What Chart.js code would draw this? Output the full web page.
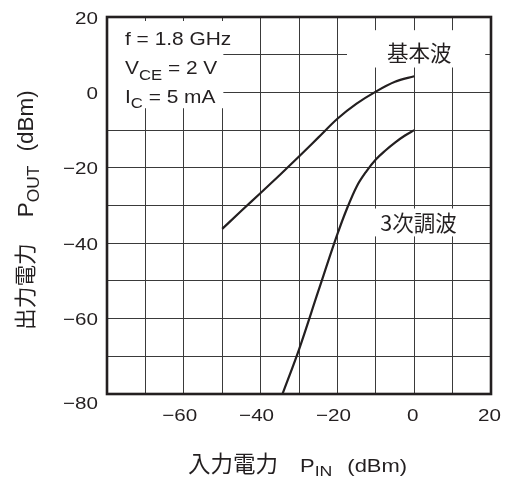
<!DOCTYPE html>
<html>
<head>
<meta charset="utf-8">
<script src="https://cdn.jsdelivr.net/npm/chart.js@4"></script>
<style>
  html, body { margin: 0; padding: 0; background: #fff; }
  canvas { display: block; }
</style>
</head>
<body>
<canvas id="c" width="510" height="479"></canvas>
<script>
// Input power sweep (dBm) and measured output power (dBm)
const fundamentalIn  = [-50, -45, -40, -35, -30, -25, -20, -15, -10, -5, 0];
const fundamentalOut = [-36.2, -31.4, -26.7, -21.9, -17.0, -12.0, -7.0, -3.0, 0.2, 2.8, 4.3];

const thirdIn  = [-34.3, -30, -25, -20, -17.5, -15, -12.5, -10, -7.5, -5, -2.5, 0];
const thirdOut = [-80, -68.2, -52.8, -37.6, -30.8, -25.0, -21.0, -17.8, -15.4, -13.3, -11.5, -10.0];

// Axis tick labels
const xTickValues = [-60, -40, -20, 0, 20];
const xTickLabels = ['\u221260', '\u221240', '\u221220', '0', '20'];
const yTickValues = [20, 0, -20, -40, -60, -80];
const yTickLabels = ['20', '0', '\u221220', '\u221240', '\u221260', '\u221280'];

// Curve names and measurement conditions
const seriesNames = ['基本波', '3次調波'];
const conditions = [
  [{ t: 'f = 1.8 GHz' }],
  [{ t: 'V' }, { t: 'CE', sub: true }, { t: ' = 2 V' }],
  [{ t: 'I' }, { t: 'C', sub: true }, { t: ' = 5 mA' }]
];

const INK = '#231f20';
const LATIN = '"Liberation Sans", Arial, Helvetica, sans-serif';
const CJK = '"Noto Sans CJK JP", "Noto Sans CJK SC", sans-serif';

function toPoints(xs, ys) {
  return xs.map((x, i) => ({ x: x, y: ys[i] }));
}

// Draw a run of text pieces left to right; each piece may carry its own
// size, family, horizontal stretch, vertical shift and leading gap.
function pieceWidth(ctx, p) {
  ctx.font = p.size + 'px ' + p.family;
  return ctx.measureText(p.t).width * (p.sx || 1);
}
function drawRun(ctx, pieces, x, y) {
  let cx = x;
  pieces.forEach(p => {
    cx += p.gap || 0;
    ctx.save();
    ctx.font = p.size + 'px ' + p.family;
    ctx.textAlign = 'left';
    ctx.textBaseline = 'alphabetic';
    ctx.translate(cx, y + (p.dy || 0));
    ctx.scale(p.sx || 1, 1);
    ctx.fillText(p.t, 0, 0);
    ctx.restore();
    cx += pieceWidth(ctx, p);
  });
}
function stretched(ctx, text, x, y, size, family, sx, align) {
  ctx.save();
  ctx.font = size + 'px ' + family;
  const w = ctx.measureText(text).width * sx;
  let left = x;
  if (align === 'center') left = x - w / 2;
  else if (align === 'right') left = x - w;
  ctx.translate(left, y);
  ctx.scale(sx, 1);
  ctx.textAlign = 'left';
  ctx.textBaseline = 'alphabetic';
  ctx.fillText(text, 0, 0);
  ctx.restore();
}

const decor = {
  id: 'decor',
  beforeDatasetsDraw(chart) {
    const { ctx, chartArea: a, scales } = chart;
    const xs = scales.x, ys = scales.y;
    ctx.save();

    // white panels behind the in-plot text
    ctx.fillStyle = '#fff';
    ctx.fillRect(a.left, a.top + 4, xs.getPixelForValue(-49.7) - a.left, ys.getPixelForValue(-4.2) - a.top - 4);
    ctx.fillRect(xs.getPixelForValue(-17.5), ys.getPixelForValue(16.5), xs.getPixelForValue(18.5) - xs.getPixelForValue(-17.5), ys.getPixelForValue(6.6) - ys.getPixelForValue(16.5));
    ctx.fillRect(xs.getPixelForValue(-11.5), ys.getPixelForValue(-30.8), xs.getPixelForValue(13.2) - xs.getPixelForValue(-11.5), ys.getPixelForValue(-38.2) - ys.getPixelForValue(-30.8));

    // plot frame
    ctx.strokeStyle = INK;
    ctx.lineWidth = 2.6;
    ctx.strokeRect(a.left, a.top, a.right - a.left, a.bottom - a.top);

    // measurement conditions
    ctx.fillStyle = INK;
    const condX = a.left + 18;
    const condY = [45, 74, 102.7];
    conditions.forEach((line, i) => {
      const pieces = line.map(p => p.sub
        ? { t: p.t, size: 14.5, family: LATIN, sx: 1.15, dy: 5.5 }
        : { t: p.t, size: 18.5, family: LATIN, sx: 1.13 });
      drawRun(ctx, pieces, condX, condY[i]);
    });

    // curve names
    ctx.font = '21.5px ' + CJK;
    ctx.textAlign = 'center';
    ctx.textBaseline = 'alphabetic';
    ctx.fillText(seriesNames[0], xs.getPixelForValue(1.3), 60.5);
    ctx.fillText(seriesNames[1], xs.getPixelForValue(1.1), 230.5);
    ctx.restore();
  },
  afterDraw(chart) {
    const { ctx, scales } = chart;
    const xs = scales.x, ys = scales.y;
    ctx.save();
    ctx.fillStyle = INK;

    // tick labels
    xTickValues.forEach((v, i) => {
      stretched(ctx, xTickLabels[i], xs.getPixelForValue(v) - (v < 0 ? 4 : 1.5), 421, 17.2, LATIN, 1.2, 'center');
    });
    yTickValues.forEach((v, i) => {
      const shift = v === -80 ? 9 : 0.4;
      stretched(ctx, yTickLabels[i], 98, ys.getPixelForValue(v) + shift + 6.1, 17.2, LATIN, 1.2, 'right');
    });

    // x axis title
    const xTitle = [
      { t: '入力電力', size: 22.5, family: CJK },
      { t: 'P', size: 18.6, family: LATIN, sx: 1.18, gap: 22 },
      { t: 'IN', size: 15, family: LATIN, sx: 1.18, dy: 4.5 },
      { t: '(dBm)', size: 18.6, family: LATIN, sx: 1.18, gap: 15 }
    ];
    drawRun(ctx, xTitle, 188, 471.5);

    // y axis title, reading bottom to top
    const yTitle = [
      { t: '出力電力', size: 21.7, family: CJK },
      { t: 'P', size: 21.5, family: LATIN, sx: 1.05, gap: 26 },
      { t: 'OUT', size: 16.5, family: LATIN, sx: 1.05, dy: 6.5 },
      { t: '(dBm)', size: 21.5, family: LATIN, sx: 1.05, gap: 14 }
    ];
    ctx.translate(32.7, 330);
    ctx.rotate(-Math.PI / 2);
    drawRun(ctx, yTitle, 0, 0);
    ctx.restore();
  }
};

const lineStyle = {
  borderColor: INK,
  borderWidth: 2.2,
  pointRadius: 0,
  fill: false,
  cubicInterpolationMode: 'monotone'
};

new Chart(document.getElementById('c'), {
  type: 'line',
  data: {
    datasets: [
      Object.assign({ label: seriesNames[0], data: toPoints(fundamentalIn, fundamentalOut) }, lineStyle),
      Object.assign({ label: seriesNames[1], data: toPoints(thirdIn, thirdOut) }, lineStyle)
    ]
  },
  options: {
    responsive: false,
    devicePixelRatio: 1,
    animation: false,
    layout: { padding: { top: 17, right: 19, left: 0, bottom: 0 } },
    plugins: { legend: { display: false }, tooltip: { enabled: false } },
    scales: {
      x: {
        type: 'linear', min: -80, max: 20,
        ticks: { display: false, stepSize: 10 },
        grid: { color: '#3a3a3a', lineWidth: 1, drawTicks: false },
        border: { display: false },
        afterFit(s) { s.height = 85; }
      },
      y: {
        type: 'linear', min: -80, max: 20,
        ticks: { display: false, stepSize: 10 },
        grid: { color: '#3a3a3a', lineWidth: 1, drawTicks: false },
        border: { display: false },
        afterFit(s) { s.width = 107; }
      }
    }
  },
  plugins: [decor]
});
</script>
</body>
</html>
